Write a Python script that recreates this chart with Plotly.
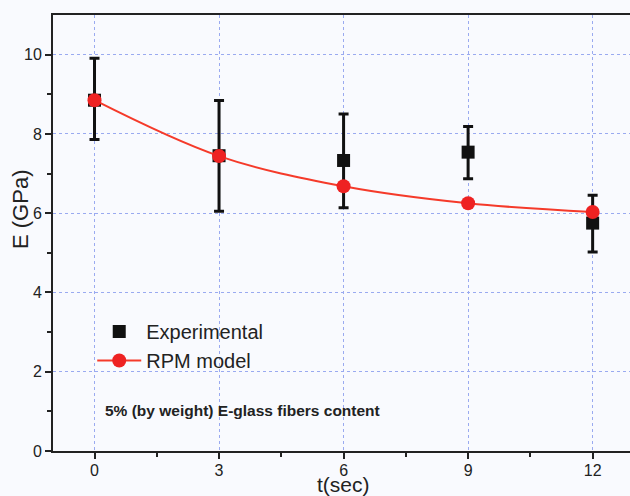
import plotly.graph_objects as go

t = [0, 3, 6, 9, 12]
exp_E = [8.85, 7.45, 7.33, 7.54, 5.75]
exp_hi = [9.91, 8.84, 8.50, 8.19, 6.45]
exp_lo = [7.86, 6.05, 6.14, 6.87, 5.02]
rpm_E = [8.85, 7.44, 6.68, 6.25, 6.03]

err_plus = [h - v for h, v in zip(exp_hi, exp_E)]
err_minus = [v - l for v, l in zip(exp_E, exp_lo)]

L, R, T, B = 53, 0, 15, 45
W, H = 630, 496
PW, PH = W - L - R, H - T - B

fig = go.Figure()
fig.add_trace(go.Scatter(
    x=t, y=exp_E, mode="markers", name="Experimental",
    marker=dict(symbol="square", size=13, color="#111111"),
    error_y=dict(type="data", symmetric=False, array=err_plus, arrayminus=err_minus,
                 color="#111111", thickness=3, width=5),
))
fig.add_trace(go.Scatter(
    x=t, y=rpm_E, mode="lines+markers", name="RPM model",
    line=dict(color="#f53a2a", width=2, shape="spline"),
    marker=dict(symbol="circle", size=14, color="#ee2222"),
))

fig.add_annotation(
    x=0.087, y=(H - B - 410) / PH, xref="paper", yref="paper",
    xanchor="left", yanchor="middle",
    text="<b>5% (by weight) E-glass fibers content</b>", showarrow=False,
    font=dict(family="Liberation Sans, Arial", size=15.5, color="#222222"),
)
fig.add_annotation(
    x=(20 - L) / PW, y=(H - B - 210) / PH, xref="paper", yref="paper",
    xanchor="center", yanchor="middle", showarrow=False,
    text="E (GPa)", textangle=-90,
    font=dict(family="Liberation Sans, Arial", size=22, color="#222222"),
)
fig.add_annotation(
    x=(343 - L) / PW, y=(H - B - 497) / PH, xref="paper", yref="paper",
    xanchor="center", yanchor="bottom", showarrow=False,
    text="t(sec)", borderpad=0,
    font=dict(family="Liberation Sans, Arial", size=21, color="#222222"),
)

bg = "#f9fafe"
fig.update_layout(
    width=W, height=H,
    margin=dict(l=L, r=R, t=T, b=B, autoexpand=False),
    paper_bgcolor=bg, plot_bgcolor=bg,
    font=dict(family="Liberation Sans, Arial", color="#222222"),
    showlegend=True,
    legend=dict(x=0.068, y=(H - B - 346) / PH, xanchor="left", yanchor="middle",
                bgcolor="rgba(0,0,0,0)", font=dict(size=20, color="#222222"),
                itemwidth=44, tracegroupgap=0),
)
fig.update_xaxes(
    range=[-1.0, 12.9], tickvals=[0, 3, 6, 9, 12],
    showgrid=True, gridcolor="#9aaaf0", griddash="dot", gridwidth=1,
    showline=True, linecolor="#222222", linewidth=2, mirror=True,
    ticks="outside", ticklen=6, tickwidth=2, tickcolor="#222222",
    minor=dict(tickvals=[-1.5 + 3 * i for i in range(6)], ticks="outside", ticklen=4,
               tickwidth=2, tickcolor="#222222", showgrid=False),
    tickfont=dict(size=16), zeroline=False, automargin=False,
    ticklabelstandoff=-2,
)
fig.update_yaxes(
    range=[0, 11], tickvals=[0, 2, 4, 6, 8, 10],
    showgrid=True, gridcolor="#9aaaf0", griddash="dot", gridwidth=1,
    showline=True, linecolor="#222222", linewidth=2,
    ticks="outside", ticklen=6, tickwidth=2, tickcolor="#222222",
    minor=dict(tickvals=[1, 3, 5, 7, 9], ticks="outside", ticklen=4,
               tickwidth=2, tickcolor="#222222", showgrid=False),
    tickfont=dict(size=16), zeroline=False, automargin=False,
)

fig.write_html("out.html")
